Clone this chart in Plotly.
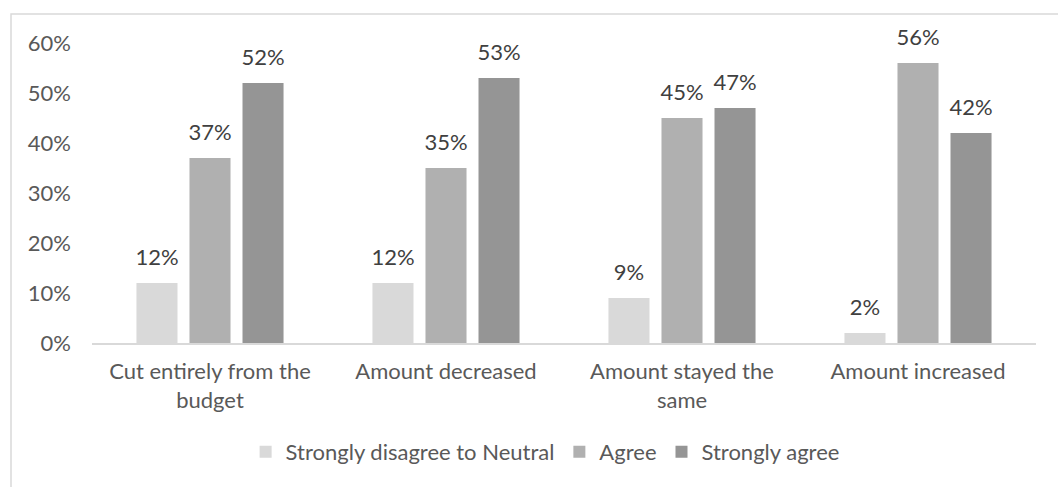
import plotly.graph_objects as go

# Survey responses by budget outcome
categories = [
    "Cut entirely from the<br>budget",
    "Amount decreased",
    "Amount stayed the<br>same",
    "Amount increased",
]
series_names = ["Strongly disagree to Neutral", "Agree", "Strongly agree"]
disagree_neutral = [0.12, 0.12, 0.09, 0.02]
agree = [0.37, 0.35, 0.45, 0.56]
strongly_agree = [0.52, 0.53, 0.47, 0.42]
y_ticks = [0, 0.1, 0.2, 0.3, 0.4, 0.5, 0.6]

series_values = [disagree_neutral, agree, strongly_agree]
colors = ["#d9d9d9", "#b0b0b0", "#959595"]

FONT = "Lato, Calibri, Carlito, sans-serif"
FS = 22
BAR_GAP = 0.326

fig = go.Figure()

for name, vals, col in zip(series_names, series_values, colors):
    fig.add_trace(go.Bar(
        name=name, x=categories, y=vals,
        marker=dict(color=col, line=dict(width=0)),
        hoverinfo="skip",
    ))

# Value labels floating above each bar
for name, vals in zip(series_names, series_values):
    fig.add_trace(go.Scatter(
        x=categories, y=vals, mode="markers+text",
        text=[f"{v:.0%}" for v in vals],
        textposition="top center",
        textfont=dict(family=FONT, size=FS, color="#404040"),
        marker=dict(size=18, opacity=0),
        showlegend=False, hoverinfo="skip", cliponaxis=False,
    ))

fig.update_layout(
    width=1058, height=487,
    margin=dict(l=92, r=22, t=43, b=144),
    paper_bgcolor="white", plot_bgcolor="white",
    barmode="group", bargap=BAR_GAP, bargroupgap=0.226,
    scattermode="group", scattergap=BAR_GAP,
    font=dict(family=FONT, size=FS, color="#595959"),
    showlegend=True,
    legend=dict(
        orientation="h", x=0.48, xanchor="center", y=-0.363, yanchor="middle",
        font=dict(family=FONT, size=FS, color="#595959"),
        traceorder="normal", itemclick=False,
    ),
    xaxis=dict(
        showline=True, linecolor="#d9d9d9", linewidth=1.5,
        showgrid=False, ticks="", ticklabelstandoff=8,
        tickfont=dict(size=FS, color="#595959"),
    ),
    yaxis=dict(
        range=[0, 0.6], tickvals=y_ticks, tickformat=".0%",
        showgrid=False, showline=False, zeroline=False, ticks="",
        ticklabelstandoff=20,
        tickfont=dict(size=FS, color="#595959"),
    ),
    shapes=[dict(
        type="rect", xref="paper", yref="paper",
        x0=-0.0858, x1=1.2, y0=-0.8, y1=1.0967,
        line=dict(color="#d9d9d9", width=1.5), fillcolor="rgba(0,0,0,0)",
        layer="below",
    )],
)

fig.write_html("out.html")
